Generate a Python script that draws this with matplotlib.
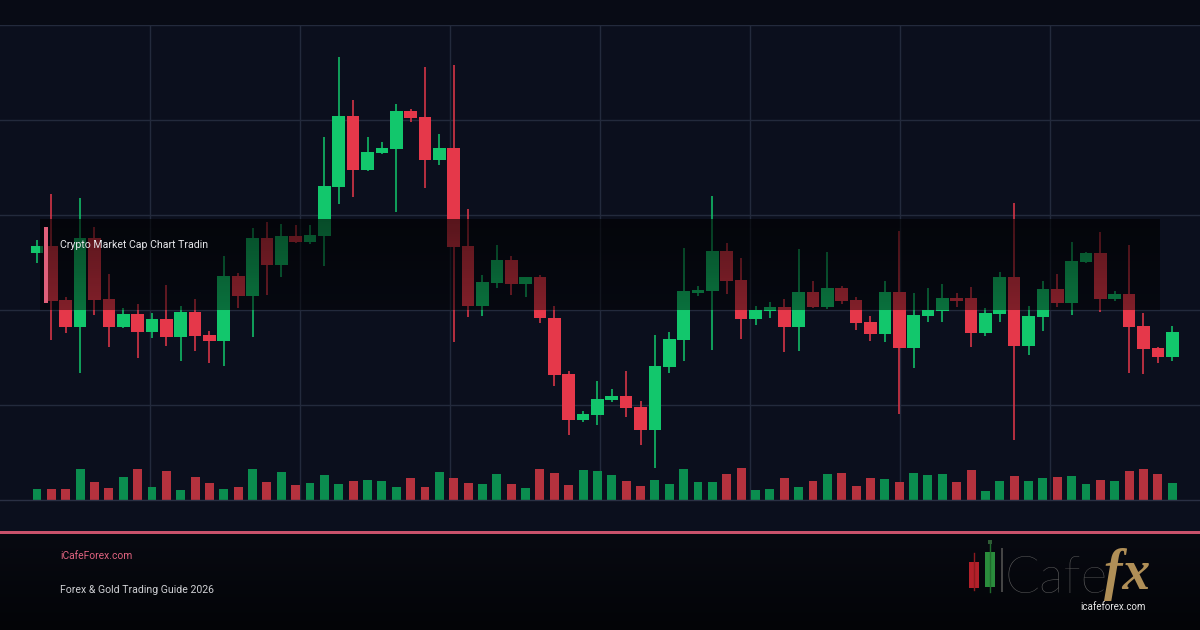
import numpy as np
import matplotlib
matplotlib.use("Agg")
import matplotlib.pyplot as plt
from matplotlib.patches import Rectangle

# ---------------- data ----------------
opens = [2494, 2508, 2400, 2346, 2524, 2402, 2346, 2372, 2336, 2362,
         2326, 2376, 2330, 2318, 2448, 2408, 2524, 2470, 2528, 2516,
         2528, 2626, 2768, 2660, 2694, 2702, 2778, 2766, 2680, 2704,
         2508, 2388, 2434, 2480, 2432, 2446, 2364, 2252, 2160, 2170,
         2200, 2208, 2186, 2140, 2266, 2320, 2414, 2418, 2498, 2440,
         2362, 2378, 2386, 2346, 2416, 2386, 2424, 2400, 2356, 2332,
         2416, 2304, 2368, 2378, 2404, 2404, 2334, 2372, 2446, 2308,
         2366, 2422, 2394, 2476, 2494, 2402, 2412, 2348, 2304, 2286]
closes = [2508, 2398, 2346, 2524, 2400, 2346, 2372, 2336, 2362, 2326,
          2376, 2328, 2318, 2448, 2408, 2524, 2470, 2528, 2516, 2530,
          2628, 2768, 2660, 2696, 2704, 2778, 2764, 2680, 2704, 2506,
          2388, 2436, 2480, 2432, 2446, 2364, 2250, 2160, 2172, 2202,
          2208, 2184, 2140, 2268, 2322, 2418, 2420, 2498, 2438, 2362,
          2380, 2386, 2346, 2416, 2386, 2424, 2398, 2354, 2332, 2416,
          2304, 2370, 2380, 2404, 2398, 2334, 2374, 2446, 2308, 2368,
          2422, 2394, 2478, 2494, 2402, 2412, 2346, 2302, 2286, 2336]
highs = [2520, 2612, 2406, 2604, 2546, 2452, 2384, 2392, 2374, 2430,
         2388, 2402, 2338, 2488, 2454, 2544, 2556, 2552, 2550, 2550,
         2726, 2886, 2800, 2726, 2716, 2792, 2782, 2866, 2732, 2870,
         2582, 2450, 2510, 2488, 2446, 2450, 2388, 2258, 2178, 2238,
         2222, 2258, 2198, 2330, 2336, 2504, 2428, 2608, 2514, 2484,
         2388, 2396, 2402, 2502, 2438, 2496, 2428, 2406, 2368, 2438,
         2538, 2414, 2424, 2432, 2414, 2426, 2384, 2456, 2594, 2388,
         2438, 2452, 2516, 2496, 2536, 2418, 2510, 2374, 2306, 2348]
lows = [2474, 2320, 2334, 2254, 2370, 2306, 2344, 2284, 2324, 2308,
        2278, 2298, 2274, 2268, 2384, 2326, 2410, 2446, 2514, 2512,
        2468, 2592, 2606, 2658, 2692, 2576, 2756, 2624, 2670, 2316,
        2366, 2368, 2424, 2410, 2406, 2354, 2228, 2130, 2156, 2150,
        2196, 2166, 2110, 2064, 2254, 2278, 2408, 2300, 2412, 2322,
        2350, 2364, 2296, 2298, 2384, 2382, 2392, 2340, 2318, 2316,
        2172, 2264, 2356, 2356, 2386, 2306, 2328, 2356, 2120, 2290,
        2338, 2386, 2370, 2474, 2376, 2398, 2254, 2252, 2274, 2278]
volumes = [34, 34, 34, 94, 55, 37, 70, 94, 40, 88,
           31, 70, 52, 34, 40, 94, 55, 85, 46, 52,
           76, 49, 58, 61, 58, 40, 67, 40, 85, 67,
           52, 49, 79, 49, 37, 94, 82, 46, 91, 88,
           76, 58, 43, 61, 49, 94, 55, 55, 79, 97,
           31, 34, 67, 40, 58, 79, 82, 43, 67, 64,
           55, 82, 76, 79, 55, 91, 28, 58, 73, 58,
           67, 70, 73, 49, 61, 58, 88, 94, 79, 52]

label_text = "Crypto Market Cap Chart Tradin"
site_text = "iCafeForex.com"
guide_text = "Forex & Gold Trading Guide 2026"
logo_url = "icafeforex.com"

# ---------------- style ----------------
W, H = 1200, 630
UP = "#12c76c"
DOWN = "#e5384a"
VOL_UP = "#0b8d4f"
VOL_DOWN = "#b5323e"
GRID = "#232a3c"
PINK = "#c9526c"

fig = plt.figure(figsize=(W / 100, H / 100), dpi=100)
fig.patch.set_facecolor("#0b0f1c")

# background (top band, chart area, footer gradient)
bg = fig.add_axes([0, 0, 1, 1], zorder=0)
rows = np.zeros((H, 1, 3))
top_c = np.array([8, 11, 21]) / 255
chart_c = np.array([11, 15, 29]) / 255
rows[:25] = top_c
rows[25:531] = chart_c
f0 = np.array([8, 10, 18]) / 255
f1 = np.array([3, 4, 7]) / 255
t = np.linspace(0, 1, H - 531)[:, None]
rows[531:, 0, :] = f0 * (1 - t) + f1 * t
bg.imshow(rows, aspect="auto", extent=[0, W, H, 0], interpolation="nearest")
bg.add_patch(Rectangle((0, 530.5), W, 3.2, color=PINK, lw=0))
bg.set_xlim(0, W)
bg.set_ylim(H, 0)
bg.axis("off")

# chart axes: pixel rows 25..500
rect = [0, (H - 500) / H, 1, 475 / H]
n = len(opens)
x = np.arange(n)
step_px, x0_px = 14.37, 37.0
xlim = (-x0_px / step_px, (W - x0_px) / step_px)

axv = fig.add_axes(rect, zorder=1)
axv.set_facecolor("none")
axv.set_xlim(*xlim)
axv.set_ylim(0, 1425)
for fy in [0.2, 0.4, 0.6, 0.8, 1.0]:
    axv.plot([0, 1], [fy, fy], transform=axv.transAxes, color=GRID, lw=1, zorder=0)
for fx in np.arange(1, 8) / 8:
    axv.plot([fx, fx], [0, 1], transform=axv.transAxes, color=GRID, lw=1, zorder=0)
axv.plot([0, 1], [0, 0], transform=axv.transAxes, color="#2a3044", lw=1, zorder=3,
         clip_on=False)
up = np.array(closes) >= np.array(opens)
axv.bar(x, volumes, width=0.62, color=np.where(up, VOL_UP, VOL_DOWN), zorder=2, lw=0)
axv.axis("off")

ax = fig.add_axes(rect, zorder=2)
ax.set_facecolor("none")
ax.set_xlim(*xlim)
ax.set_ylim(2000, 2950)
for i in range(n):
    c = UP if up[i] else DOWN
    ax.vlines(x[i], lows[i], highs[i], color=c, lw=1.1, zorder=2)
    lo, hi = min(opens[i], closes[i]), max(opens[i], closes[i])
    ax.bar(x[i], max(hi - lo, 3), bottom=lo, width=0.88, color=c, lw=0, zorder=3)

# dark label overlay with vertical alpha gradient
ov_x0 = (40 - x0_px) / step_px
ov_x1 = (1160 - x0_px) / step_px
ov_top, ov_bot = 2562, 2380
g = np.zeros((64, 1, 4))
g[:, 0, 3] = np.linspace(0.62, 0.44, 64)
ax.imshow(g, aspect="auto", extent=[ov_x0, ov_x1, ov_bot, ov_top],
          interpolation="bilinear", zorder=5)
ax.add_patch(Rectangle(((44 - x0_px) / step_px, 2394), 4.2 / step_px, 152,
                       color="#e0607a", lw=0, zorder=6))
ax.set_xlim(*xlim)
ax.set_ylim(2000, 2950)
ax.axis("off")

fig.text(60 / W, 1 - 245 / H, label_text, color="#e6e6ea", fontsize=7.6,
         family="Roboto", va="center", ha="left", zorder=10)

# footer texts
fig.text(60 / W, 1 - 556 / H, site_text, color="#e0637f", fontsize=7.4,
         family="Roboto", va="center", ha="left")
fig.text(60 / W, 1 - 590 / H, guide_text, color="#cfd0d4", fontsize=7.6,
         family="Roboto", va="center", ha="left")

# logo
lg = fig.add_axes([0, 0, 1, 1], zorder=3)
lg.set_xlim(0, W)
lg.set_ylim(H, 0)
lg.axis("off")
lg.plot([974, 974], [553, 590], color="#8d1a1f", lw=1)
lg.add_patch(Rectangle((969, 562), 10, 26, color="#b3202a", lw=0))
lg.plot([990, 990], [544, 592], color="#1f6a2c", lw=1)
lg.add_patch(Rectangle((985, 552), 10, 35, color="#2a8c3c", lw=0))
lg.add_patch(Rectangle((988.2, 540), 3.6, 4, color="#2f5c36", lw=0))
lg.add_patch(Rectangle((1001, 548), 2, 44, color="#444444", lw=0))
lg.text(1005, 593, "Cafe", color="#5c5c5c", fontsize=37, family="Lato",
        fontweight="light", va="baseline", ha="left")
lg.text(1104, 589, "fx", color="#b08f57", fontsize=40, family="Liberation Serif",
        fontweight="bold", fontstyle="italic", va="baseline", ha="left")
lg.text(1113, 607, logo_url, color="#e8e8e8", fontsize=7, family="Roboto",
        va="center", ha="center")

fig.savefig("out.png", dpi=100, facecolor=fig.get_facecolor())
